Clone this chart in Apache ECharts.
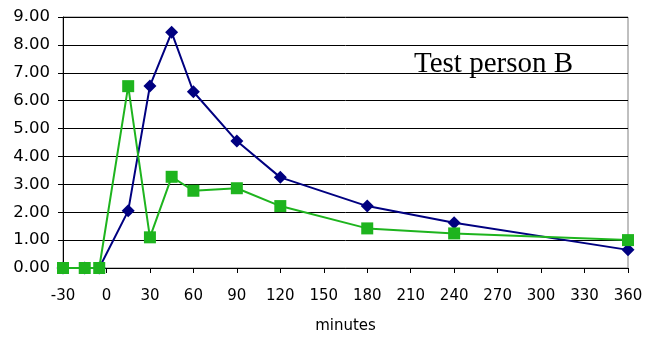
<!DOCTYPE html>
<html>
<head>
<meta charset="utf-8">
<script src="https://cdn.jsdelivr.net/npm/echarts@6/dist/echarts.min.js"></script>
<style>
  html, body { margin: 0; padding: 0; background: #fff; }
  #chart { width: 646px; height: 338px; }
</style>
</head>
<body>
<div id="chart"></div>
<script>
// minutes and measured values for test person B
let minutes = [-30, -15, -5, 15, 30, 45, 60, 90, 120, 180, 240, 360]
let blueValues = [0, 0, 0, 2.05, 6.53, 8.45, 6.32, 4.55, 3.25, 2.22, 1.62, 0.65]
let greenValues = [0, 0, 0, 6.52, 1.10, 3.27, 2.77, 2.86, 2.22, 1.42, 1.24, 1.00]

let pairs = (xs, ys) => xs.map((x, i) => [x, ys[i]])

let chart = echarts.init(document.getElementById('chart'))
let option = {
  animation: false,
  title: {
    text: 'Test person B',
    left: 414,
    top: 50,
    padding: 0,
    textStyle: {
      fontFamily: 'Liberation Serif',
      fontWeight: 'normal',
      fontSize: 29,
      lineHeight: 29,
      color: '#000'
    }
  },
  grid: {
    left: 63,
    right: 18,
    top: 17,
    bottom: 70,
    outerBoundsMode: 'none',
    show: true,
    borderColor: '#808080',
    borderWidth: 1
  },
  xAxis: {
    type: 'value',
    min: -30,
    max: 360,
    interval: 30,
    name: 'minutes',
    nameLocation: 'middle',
    nameGap: 51,
    nameTextStyle: {
      fontFamily: 'DejaVu Sans',
      fontSize: 15,
      color: '#000'
    },
    axisLine: { show: true, onZero: false, lineStyle: { color: '#000', width: 1 } },
    axisTick: { show: true, length: 5, lineStyle: { color: '#000' } },
    splitLine: { show: false },
    axisLabel: {
      margin: 21,
      fontFamily: 'DejaVu Sans',
      fontSize: 15,
      color: '#000'
    }
  },
  yAxis: {
    type: 'value',
    min: 0,
    max: 9,
    interval: 1,
    axisLine: { show: true, onZero: false, lineStyle: { color: '#000', width: 1 } },
    axisTick: { show: true, length: 5, lineStyle: { color: '#000' } },
    splitLine: { show: true, lineStyle: { color: '#000', width: 1 } },
    axisLabel: {
      margin: 13,
      fontFamily: 'DejaVu Sans',
      fontSize: 16.5,
      color: '#000',
      formatter: v => v.toFixed(2)
    }
  },
  series: [{
    type: 'line',
    data: pairs(minutes, blueValues),
    symbol: 'diamond',
    symbolSize: 13,
    lineStyle: { color: '#000080', width: 2 },
    itemStyle: { color: '#000080' },
    z: 2
  }, {
    type: 'line',
    data: pairs(minutes, greenValues),
    symbol: 'rect',
    symbolSize: 12,
    lineStyle: { color: '#1eb41e', width: 2 },
    itemStyle: { color: '#1eb41e' },
    z: 3
  }]
}
chart.setOption(option)
</script>
</body>
</html>
